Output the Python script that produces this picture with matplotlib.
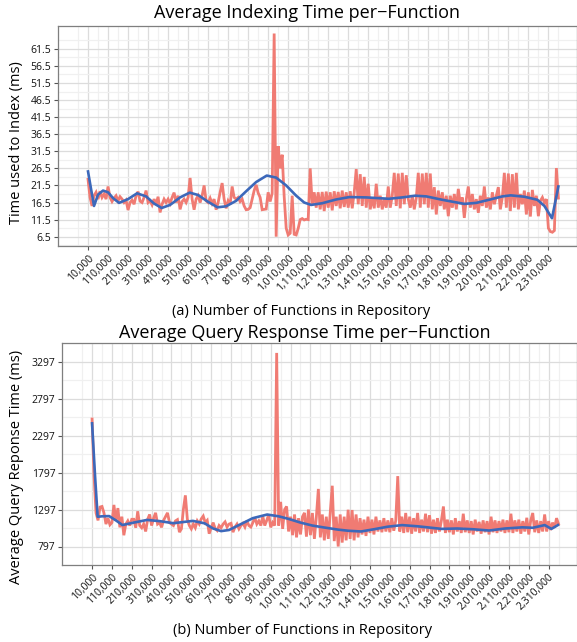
import matplotlib
matplotlib.use("Agg")
import matplotlib.pyplot as plt
import numpy as np

plt.rcParams['font.family'] = ['Open Sans', 'DejaVu Sans']

# x positions of the samples (number of functions)
n_functions = list(range(10000, 2360001, 10000))

# (a) average indexing time per function (ms)
index_time = [
    23.3, 18.0, 15.5, 18.5, 19.5, 17.5, 19.8, 18.0, 19.0, 17.5,
    21.2, 18.0, 16.8, 17.8, 18.5, 17.0, 18.2, 17.5, 16.5, 17.2,
    14.3, 16.5, 17.2, 16.0, 18.5, 19.7, 16.9, 16.5, 18.0, 20.0,
    16.5, 17.0, 15.8, 17.5, 16.0, 18.2, 13.6, 16.0, 17.5, 16.5,
    17.5, 16.2, 18.0, 19.4, 16.5, 18.5, 14.5, 16.8, 17.5, 16.5,
    18.0, 23.7, 17.5, 14.4, 17.5, 18.5, 16.5, 18.5, 21.5, 17.0,
    16.5, 17.8, 16.2, 17.5, 14.4, 16.5, 19.5, 22.2, 17.5, 14.8,
    17.0, 16.0, 21.2, 18.0, 17.5, 18.0, 16.8, 17.5, 15.5, 14.4,
    14.5, 15.0, 17.5, 20.0, 21.7, 19.3, 18.0, 14.4, 14.5, 14.6,
    19.5, 16.8, 19.2, 66.0, 6.5, 33.0, 26.5, 30.5, 18.3, 9.0,
    7.0, 7.5, 18.5, 7.2, 7.0, 8.9, 11.5, 11.8, 11.4, 11.6,
    11.5, 26.5, 16.0, 19.5, 15.0, 19.5, 14.5, 19.6, 14.0, 19.7,
    15.0, 19.5, 14.2, 19.8, 15.5, 19.6, 14.8, 20.0, 15.2, 19.5,
    15.0, 19.8, 14.8, 19.5, 26.3, 16.0, 24.8, 15.5, 24.0, 15.0,
    22.0, 14.5, 18.0, 14.8, 22.0, 15.0, 18.5, 14.5, 17.5, 15.0,
    21.2, 15.0, 18.5, 25.2, 15.5, 25.0, 14.8, 25.2, 16.0, 24.5,
    17.5, 15.0, 18.5, 14.5, 17.8, 25.2, 15.0, 25.0, 16.0, 25.2,
    15.0, 25.0, 14.5, 21.0, 13.0, 20.0, 15.5, 19.5, 14.5, 18.5,
    12.5, 18.5, 15.0, 19.0, 14.5, 20.5, 16.0, 18.0, 12.0, 17.5,
    21.2, 15.0, 19.0, 14.5, 17.5, 13.5, 18.5, 15.5, 21.2, 15.0,
    18.0, 14.5, 19.5, 16.0, 18.5, 21.0, 14.5, 18.0, 25.2, 15.0,
    25.0, 14.0, 24.8, 15.0, 25.2, 14.5, 19.0, 16.0, 20.0, 13.0,
    19.5, 12.4, 20.2, 15.5, 18.5, 12.5, 17.0, 18.0, 16.5, 17.5,
    9.0, 8.0, 7.8, 8.3, 26.6, 17.8,
]

# smoothed trend of (a)
index_trend_x = [10000, 25000, 40000, 60000, 85000, 110000, 135000, 165000,
                 210000, 255000, 300000, 340000, 378000, 420000, 470000,
                 518000, 560000, 610000, 657000, 700000, 750000, 800000,
                 850000, 903000, 950000, 1000000, 1050000, 1090000, 1125000,
                 1180000, 1250000, 1316000, 1400000, 1513000, 1580000,
                 1645000, 1700000, 1780000, 1890000, 1950000, 2020000,
                 2080000, 2122000, 2190000, 2255000, 2290000, 2328000, 2360000]
index_trend = [25.6, 20.5, 15.5, 18.8, 20.0, 19.5, 17.8, 16.4,
               17.5, 19.2, 18.3, 16.2, 14.9, 15.8, 18.0,
               19.4, 18.7, 16.7, 15.1, 15.4, 17.0, 19.8,
               22.5, 24.4, 23.8, 21.5, 18.5, 16.5, 15.8,
               16.3, 17.4, 18.1, 18.0, 17.6, 18.0,
               18.5, 18.3, 17.3, 16.1, 16.4, 17.4,
               18.3, 18.6, 18.2, 17.3, 15.5, 11.9, 21.2]

# (b) average query response time (ms)
query_time = [
    2520, 1750, 1250, 1150, 1330, 1338, 1250, 1100, 1180, 1090,
    1120, 1359, 1143, 1316, 1056, 1200, 949, 1100, 1143, 1080,
    1165, 1165, 1050, 1273, 1080, 1050, 1100, 1000, 1165, 1230,
    1080, 1180, 1252, 1100, 1120, 1056, 1150, 1200, 1252, 1120,
    1100, 1080, 1143, 1160, 991, 1035, 1300, 1488, 1165, 1080,
    1035, 1100, 1050, 1143, 1100, 1170, 1208, 1120, 1150, 970,
    1050, 1120, 1040, 1013, 1080, 1050, 1100, 1130, 1060, 1100,
    1110, 991, 1060, 1100, 1035, 1080, 1110, 1060, 1143, 1080,
    1060, 1120, 1186, 1100, 1143, 1080, 1208, 1080, 1150, 1230,
    1056, 1120, 1080, 3413, 1080, 1400, 1035, 1297, 1338, 1000,
    1200, 950, 1230, 920, 1180, 960, 1200, 1252, 930, 1297,
    950, 1250, 900, 1200, 1575, 920, 1230, 880, 1200, 900,
    1250, 1618, 870, 1200, 797, 1230, 850, 1200, 880, 1294,
    900, 1290, 880, 1230, 920, 1180, 960, 1160, 940, 1200,
    980, 1160, 960, 1200, 1000, 1150, 990, 1180, 1000, 1150,
    990, 1180, 1010, 1150, 1748, 1000, 1200, 980, 1250, 990,
    1200, 970, 1180, 1000, 1250, 980, 1160, 1000, 1240, 990,
    1220, 970, 1160, 980, 1180, 1000, 1150, 1338, 980, 1160,
    990, 1150, 960, 1180, 1000, 1140, 980, 1240, 990, 1150,
    980, 1140, 960, 1160, 1000, 1130, 970, 1150, 990, 1140,
    960, 1200, 990, 1150, 980, 1140, 1000, 1160, 980, 1150,
    990, 1240, 980, 1150, 1000, 1160, 970, 1140, 1000, 1185,
    960, 1150, 1250, 990, 1150, 980, 1140, 1000, 1230, 1000,
    1140, 1020, 1120, 1050, 1180, 1100,
]

query_trend_x = [10000, 25000, 38000, 60000, 96000, 130000, 163000, 220000,
                 287000, 350000, 419000, 470000, 518000, 577000, 620000,
                 660000, 700000, 760000, 820000, 892000, 950000, 1000000,
                 1060000, 1120000, 1174000, 1250000, 1300000, 1365000,
                 1430000, 1500000, 1572000, 1650000, 1771000, 1850000,
                 1930000, 2010000, 2090000, 2178000, 2230000, 2277000,
                 2290000, 2324000, 2357000]
query_trend = [2461, 1750, 1199, 1205, 1208, 1150, 1087, 1120,
               1156, 1140, 1112, 1128, 1143, 1110, 1040,
               1005, 1020, 1100, 1180, 1229, 1205, 1170,
               1120, 1080, 1056, 1025, 1010, 1000,
               1030, 1065, 1086, 1070, 1035, 1040,
               1030, 1013, 1040, 1056, 1050, 1078,
               1087, 1035, 1087]

x_ticks = list(range(10000, 2310001, 100000))
x_ticklabels = ['{:,}'.format(t) for t in x_ticks]
index_yticks = [6.5, 11.5, 16.5, 21.5, 26.5, 31.5, 36.5, 41.5, 46.5, 51.5, 56.5, 61.5]
query_yticks = [797, 1297, 1797, 2297, 2797, 3297]

RED = '#F07B73'
BLUE = '#3C68BA'
W, H = 577, 642

fig = plt.figure(figsize=(W / 100, H / 100), dpi=100)


def px_axes(left, top, right, bottom):
    return fig.add_axes([left / W, 1 - bottom / H, (right - left) / W, (bottom - top) / H])


def style(ax, yticks, ylim, ystep):
    ax.set_facecolor('white')
    ax.set_xlim(-108000, 2453000)
    ax.set_ylim(*ylim)
    ax.set_xticks(x_ticks)
    ax.set_xticklabels(x_ticklabels, rotation=45, ha='right', va='top',
                       rotation_mode='anchor', fontsize=7.5)
    ax.set_xticks([t + 50000 for t in range(-190000, 2400001, 100000)], minor=True)
    ax.set_yticks(yticks)
    ax.set_yticklabels([str(t) for t in yticks], fontsize=7.5)
    ax.set_yticks([yticks[0] - ystep / 2] + [t + ystep / 2 for t in yticks], minor=True)
    ax.grid(which='major', color='#DCDCDC', linewidth=0.9)
    ax.grid(which='minor', color='#F0F0F0', linewidth=0.9)
    ax.set_axisbelow(True)
    ax.tick_params(which='major', length=3, width=0.8, color='#555555',
                   labelcolor='#111111', pad=2)
    ax.tick_params(which='minor', length=0)
    for s in ax.spines.values():
        s.set_color('#7F7F7F')
        s.set_linewidth(0.9)


# (a) indexing time
ax1 = px_axes(58, 26, 577, 246)
style(ax1, index_yticks, (3.77, 68.2), 5)
ax1.plot(n_functions, index_time, color=RED, linewidth=2.0, solid_joinstyle='miter')
ax1.plot(index_trend_x, index_trend, color=BLUE, linewidth=1.9)
ax1.set_ylabel('Time used to Index (ms)', fontsize=10.5)
ax1.yaxis.set_label_coords(-0.0655, 0.468)
ax1.set_xlabel('(a) Number of Functions in Repository', fontsize=10.5, va='center')
ax1.xaxis.set_label_coords(0.468, -0.30)
fig.text(307 / W, 1 - 13 / H, 'Average Indexing Time per\u2212Function',
         ha='center', va='center', fontsize=13)

# (b) query response time
ax2 = px_axes(62.3, 343, 577, 565)
style(ax2, query_yticks, (667, 3543), 500)
ax2.plot(n_functions, query_time, color=RED, linewidth=2.0, solid_joinstyle='miter')
ax2.plot(query_trend_x, query_trend, color=BLUE, linewidth=1.9)
ax2.set_ylabel('Average Query Reponse Time (ms)', fontsize=10.5)
ax2.yaxis.set_label_coords(-0.0744, 0.442)
ax2.set_xlabel('(b) Number of Functions in Repository', fontsize=10.5, va='center')
ax2.xaxis.set_label_coords(0.466, -0.293)
fig.text(305 / W, 1 - 333 / H, 'Average Query Response Time per\u2212Function',
         ha='center', va='center', fontsize=13)

fig.savefig('out.png', dpi=100)
